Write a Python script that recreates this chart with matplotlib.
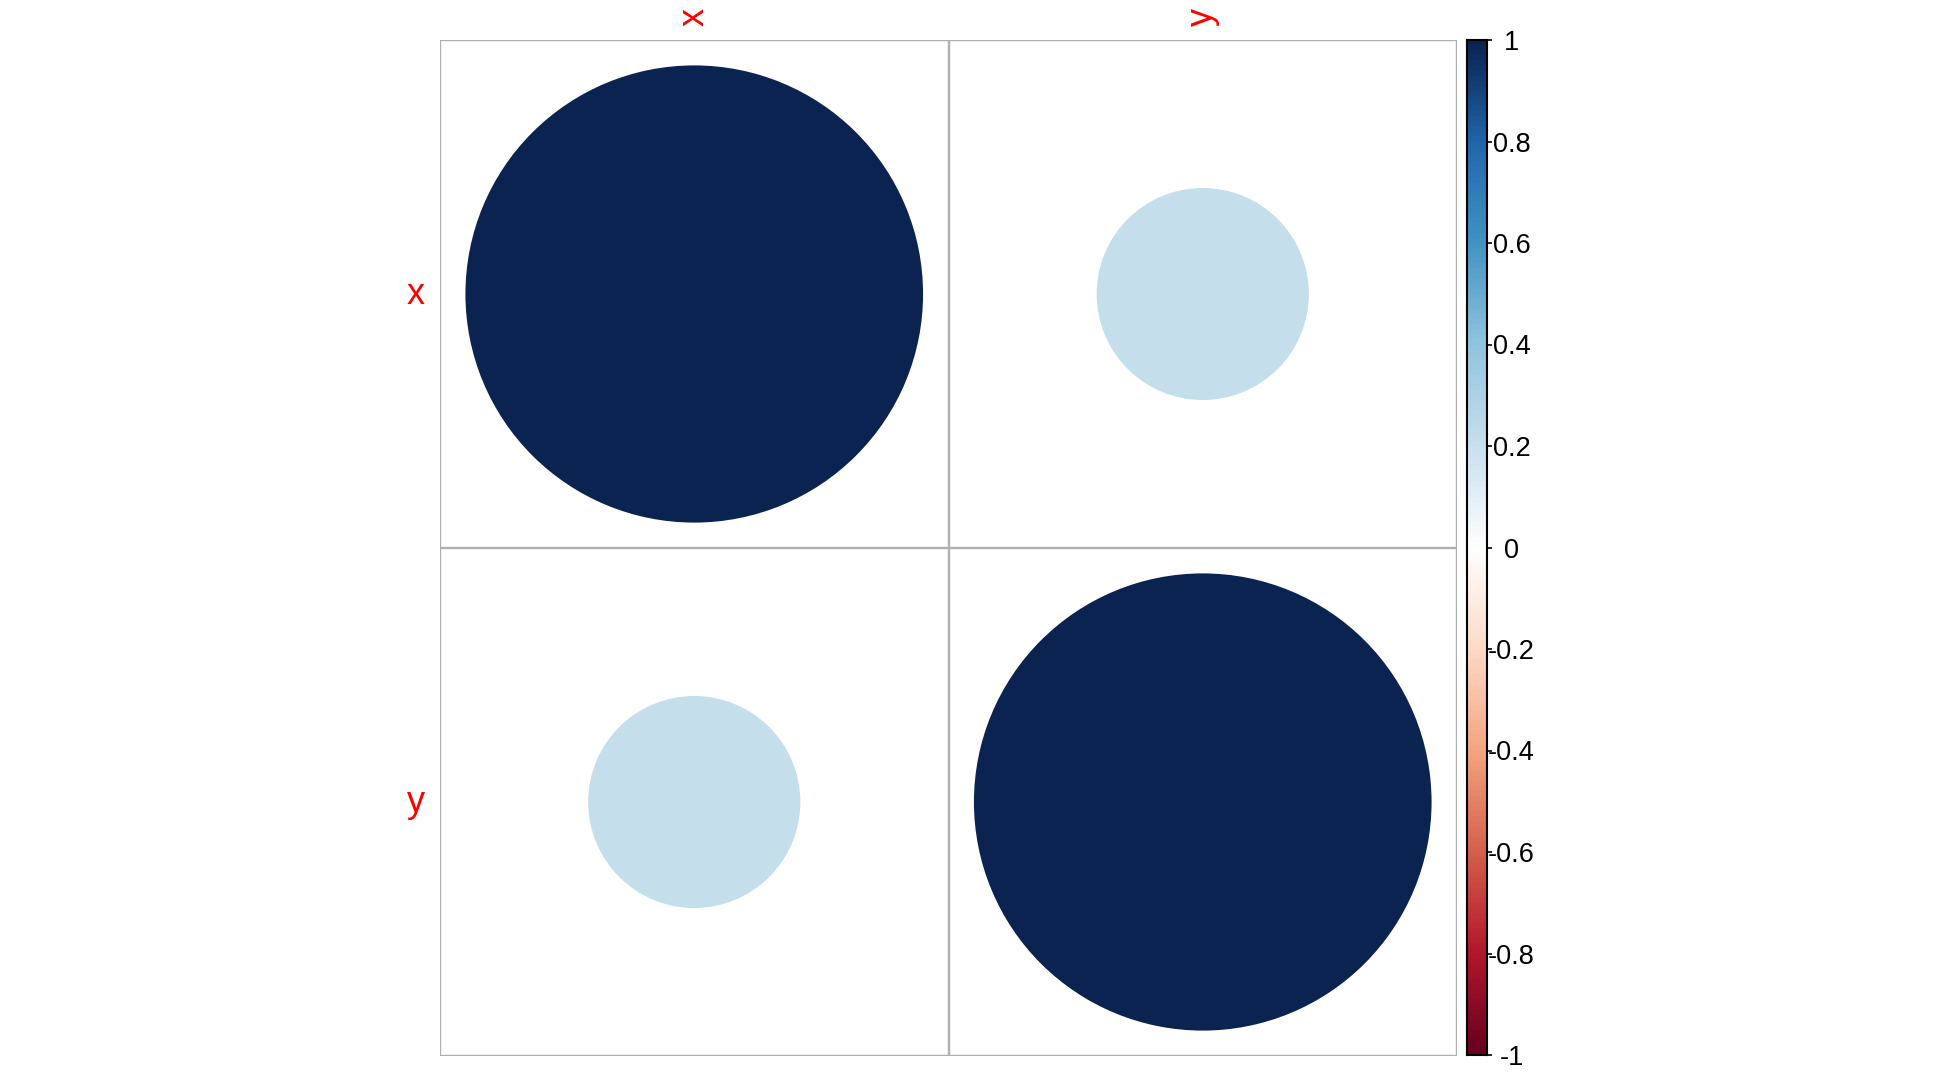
import numpy as np
import matplotlib
matplotlib.use("Agg")
import matplotlib.pyplot as plt
from matplotlib.colors import LinearSegmentedColormap, Normalize
from matplotlib.patches import Circle

plt.rcParams['font.family'] = ['Liberation Sans', 'DejaVu Sans']

# data
var_names = ['x', 'y']
corr = np.array([[1.0, 0.215],
                 [0.215, 1.0]])
cbar_ticks = [-1, -0.8, -0.6, -0.4, -0.2, 0, 0.2, 0.4, 0.6, 0.8, 1]
cbar_labels = ['-1', '-0.8', '-0.6', '-0.4', '-0.2', '0', '0.2', '0.4', '0.6', '0.8', '1']

# corrplot RdBu palette
rdbu = ["#67001F", "#B2182B", "#D6604D", "#F4A582", "#FDDBC7", "#FFFFFF",
        "#C8E0ED", "#92C5DE", "#4393C3", "#2166AC", "#0A2350"]
cmap = LinearSegmentedColormap.from_list('corr_rdbu', rdbu, N=200)
norm = Normalize(-1, 1)

W, H = 1944, 1080
fig = plt.figure(figsize=(W / 100, H / 100), dpi=100)

# matrix panel
ax = fig.add_axes([440 / W, 1 - 1056 / H, 1017 / W, 1016 / H])
n = len(var_names)
ax.set_xlim(0, n)
ax.set_ylim(0, n)
ax.axis('off')

grid_col = '#B0B0B0'
for k in range(n + 1):
    ax.plot([k, k], [0, n], color=grid_col, lw=1.7, solid_capstyle='projecting', zorder=1)
    ax.plot([0, n], [k, k], color=grid_col, lw=1.7, solid_capstyle='projecting', zorder=1)

for i in range(n):
    for j in range(n):
        r = corr[i, j]
        cx = j + 0.5
        cy = n - i - 0.5
        ax.add_patch(Circle((cx, cy), radius=np.sqrt(abs(r)) * 0.45,
                            facecolor=cmap(norm(r)), edgecolor='none', zorder=2))

# labels
for j, name in enumerate(var_names):
    ax.text(j + 0.5, n + 0.027, name, color='red', fontsize=26, rotation=90,
            ha='center', va='bottom', clip_on=False)
for i, name in enumerate(var_names):
    ax.text(-0.03, n - i - 0.5, name, color='red', fontsize=26,
            ha='right', va='center', clip_on=False)

# colour bar
cax = fig.add_axes([1467 / W, 1 - 1055 / H, 20 / W, 1015 / H])
grad = np.linspace(-1, 1, 200)[:, None]
cax.imshow(grad, cmap=cmap, norm=norm, origin='lower', aspect='auto',
           extent=[0, 1, -1, 1])
cax.set_xlim(0, 1)
cax.set_ylim(-1, 1)
cax.set_xticks([])
cax.yaxis.tick_right()
cax.set_yticks(cbar_ticks)
cax.set_yticklabels(cbar_labels)
cax.tick_params(axis='y', length=3.6, width=1.2, pad=14, labelsize=19.5)
for lab in cax.get_yticklabels():
    lab.set_horizontalalignment('center')
for sp in cax.spines.values():
    sp.set_linewidth(1.5)
    sp.set_color('black')

fig.savefig('out.png', dpi=100, facecolor='white')
